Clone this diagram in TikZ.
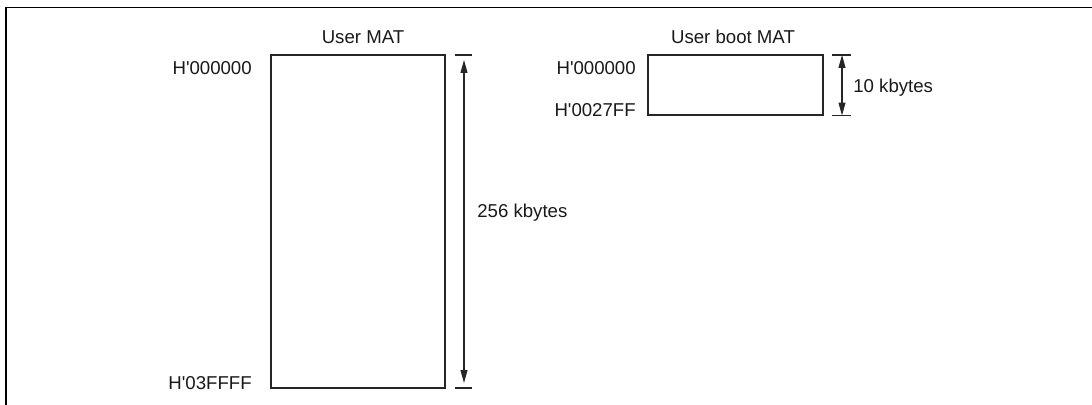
\documentclass[tikz,border=0pt]{standalone}
\usepackage{fontspec}
\setmainfont{Liberation Sans}
\usepackage{tikz}
\usetikzlibrary{arrows.meta,positioning,calc}

\begin{document}
\begin{tikzpicture}[
    x=0.02cm, y=-0.02cm,
    mat/.style={rectangle, draw=black!85, line width=1.1pt, inner sep=0pt},
    addr/.style={anchor=east, inner sep=0pt, font=\fontsize{10.6}{12}\selectfont, text=black!90},
    title/.style={inner sep=0pt, font=\fontsize{10.6}{12}\selectfont, text=black!90},
    size/.style={anchor=west, inner sep=0pt, font=\fontsize{10.6}{12}\selectfont, text=black!90},
    dim/.style={{Triangle[length=2.6mm,width=1.4mm]}-{Triangle[length=2.6mm,width=1.4mm]}, line width=0.6pt, color=black!85},
    tick/.style={line width=0.6pt, color=black!85},
    frame/.style={line width=1pt, color=black}
]
    \useasboundingbox (0,0) rectangle (1092,405);

    % Outer frame (cut at right and bottom)
    \draw[frame] (6,405) |- (1092,7.5);

    % User MAT
    \node[mat, minimum width=3.48cm, minimum height=6.66cm] (umat) at (358,221.5) {};
    \node[title] (utitle) at (363,37) {User MAT};
    \node[addr] (ustart) at ([xshift=-0.36cm, yshift=-0.28cm]umat.north west) {H\textquotesingle 000000};
    \node[addr] (uend) at ([xshift=-0.36cm, yshift=0.12cm]umat.south west) {H\textquotesingle 03FFFF};

    % User boot MAT
    \node[mat, minimum width=3.5cm, minimum height=1.2cm] (bmat) at (735.5,85) {};
    \node[title] (btitle) at (733,37) {User boot MAT};
    \node[addr] (bstart) at ([xshift=-0.22cm, yshift=-0.28cm]bmat.north west) {H\textquotesingle 000000};
    \node[addr] (bend) at ([xshift=-0.22cm, yshift=0.12cm]bmat.south west) {H\textquotesingle 0027FF};

    % Size of user MAT
    \coordinate (ut) at (464,55);
    \coordinate (ub) at (464,388);
    \draw[tick] (455,55) -- (472,55);
    \draw[tick] (455,388) -- (472,388);
    \draw[dim, shorten <=0.1cm, shorten >=0.1cm] (ut) -- (ub);
    \node[size] (usize) at (477,213) {256 kbytes};

    % Size of user boot MAT
    \coordinate (bt) at (842,55);
    \coordinate (bb) at (842,115.5);
    \draw[tick] (832,55) -- (851,55);
    \draw[tick] (832,115.5) -- (851,115.5);
    \draw[dim] (bt) -- (bb);
    \node[size] (bsize) at (853,88) {10 kbytes};

\end{tikzpicture}
\end{document}
